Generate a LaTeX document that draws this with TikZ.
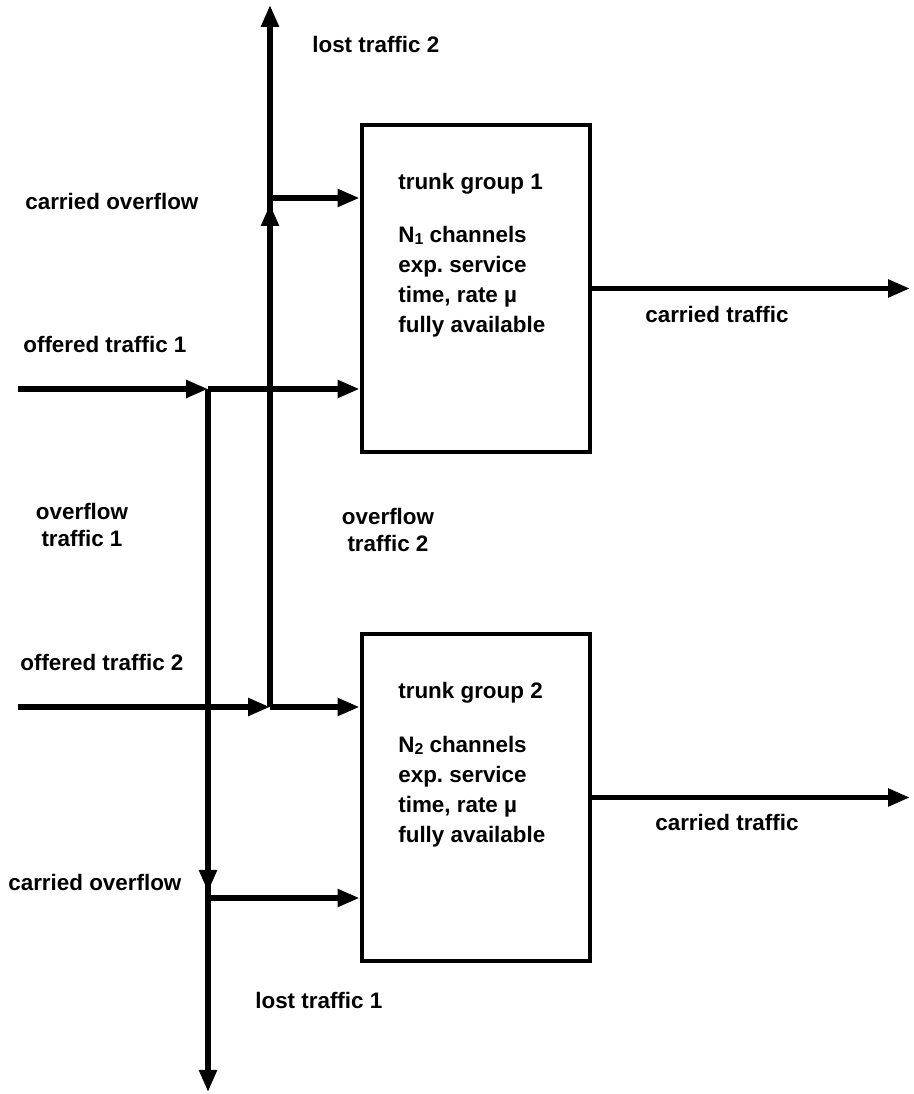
\documentclass[tikz,border=0pt]{standalone}
\usepackage{fontspec}
\setmainfont{Liberation Sans}
\usetikzlibrary{arrows.meta,positioning,calc}

\tikzset{
    flow/.style={line width=3pt, -{Triangle[length=0.44cm,width=0.34cm]}},
    trunkbox/.style={rectangle, draw, line width=2.8pt, minimum width=4.56cm, minimum height=6.54cm, inner sep=0pt},
    lbl/.style={font=\bfseries\fontsize{12.75}{15}\selectfont, inner sep=0pt},
    boxtext/.style={font=\bfseries\fontsize{12.75}{17}\selectfont, inner sep=0pt, anchor=west, align=left},
}

\begin{document}
\begin{tikzpicture}
    \useasboundingbox (0,0) rectangle (18.26,21.88);

    % Trunk groups
    \node[trunkbox] (tg1) at (9.52,16.11) {};
    \node[trunkbox] (tg2) at (9.52,5.93) {};

    \node[boxtext] (tg1text) at (7.96,16.78) {trunk group 1\\[0.48cm]N{\fontsize{9}{9}\selectfont\raisebox{-0.25ex}{1}} channels\\exp.\ service\\time, rate µ\\fully available};
    \node[boxtext] (tg2text) at (7.96,6.59) {trunk group 2\\[0.48cm]N{\fontsize{9}{9}\selectfont\raisebox{-0.25ex}{2}} channels\\exp.\ service\\time, rate µ\\fully available};

    % Points on the lines
    \coordinate (in1) at (0.36,14.10);
    \coordinate (in2) at (0.36,7.74);
    \coordinate (split1) at (4.16,14.10);
    \coordinate (split2) at (5.40,7.74);
    \coordinate (co1) at (4.16,3.92);
    \coordinate (co2) at (5.40,17.92);
    \coordinate (lost1) at (4.16,0.04);
    \coordinate (lost2) at (5.40,21.78);
    \coordinate (out1) at (18.20,16.11);
    \coordinate (out2) at (18.20,5.93);

    % Offered traffic
    \draw[flow] (in1) -- (split1);
    \draw[flow] (split1) -- (split1 -| tg1.west);
    \draw[flow] (in2) -- (split2);
    \draw[flow] (split2) -- (split2 -| tg2.west);

    % Overflow traffic
    \draw[flow] (split1) -- (lost1);
    \draw[flow, shorten >=0.12cm] (split1) -- (co1);
    \draw[flow] (co1) -- (co1 -| tg2.west);
    \draw[flow] (split2) -- (lost2);
    \draw[flow, shorten >=0.12cm] (split2) -- (co2);
    \draw[flow] (co2) -- (co2 -| tg1.west);

    % Carried traffic
    \draw[flow] (tg1.east) -- (out1);
    \draw[flow] (tg2.east) -- (out2);

    % Labels
    \node[lbl, anchor=west] (lost2lbl) at (6.24,20.98) {lost traffic 2};
    \node[lbl, anchor=west] (co1lbl) at (0.50,17.84) {carried overflow};
    \node[lbl, anchor=west] (off1lbl) at (0.46,14.98) {offered traffic 1};
    \node[lbl, anchor=west] (car1lbl) at (12.90,15.58) {carried traffic};
    \node[lbl, align=center, font=\bfseries\fontsize{12.75}{14.8}\selectfont] (ovf1lbl) at (1.64,11.38) {overflow\\traffic 1};
    \node[lbl, align=center, font=\bfseries\fontsize{12.75}{14.8}\selectfont] (ovf2lbl) at (7.76,11.28) {overflow\\traffic 2};
    \node[lbl, anchor=west] (off2lbl) at (0.40,8.64) {offered traffic 2};
    \node[lbl, anchor=west] (car2lbl) at (13.10,5.44) {carried traffic};
    \node[lbl, anchor=west] (co2lbl) at (0.16,4.24) {carried overflow};
    \node[lbl, anchor=west] (lost1lbl) at (5.10,1.88) {lost traffic 1};
\end{tikzpicture}
\end{document}
